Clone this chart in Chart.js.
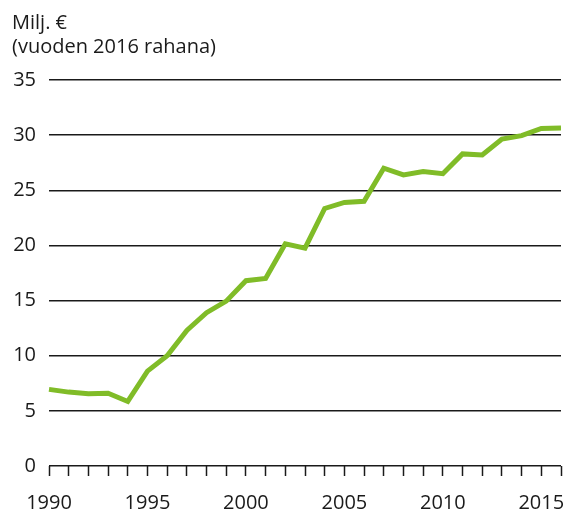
<!DOCTYPE html>
<html>
<head>
<meta charset="utf-8">
<script src="https://cdn.jsdelivr.net/npm/chart.js@4"></script>
<style>
  html, body { margin: 0; padding: 0; background: #fff; }
  canvas { display: block; }
</style>
</head>
<body>
<canvas id="chart" width="569" height="511"></canvas>
<script>
// values (million euros, 2016 money)
var years = ['1990', '1991', '1992', '1993', '1994', '1995', '1996', '1997', '1998',
  '1999', '2000', '2001', '2002', '2003', '2004', '2005', '2006', '2007', '2008',
  '2009', '2010', '2011', '2012', '2013', '2014', '2015', '2016'];
var spending = [6.95, 6.7, 6.55, 6.6, 5.85, 8.6, 10.0, 12.3, 13.9, 14.95, 16.8, 17.0,
  20.15, 19.75, 23.35, 23.9, 24.0, 27.0, 26.4, 26.7, 26.5, 28.3, 28.2, 29.65, 29.95,
  30.6, 30.65];
var yTicks = [0, 5, 10, 15, 20, 25, 30, 35];
var titleLines = ['Milj. €', '(vuoden 2016 rahana)'];

var ctx = document.getElementById('chart').getContext('2d');
var FONT = '"Open Sans", "Noto Sans", sans-serif';
var INK = '#1a1a1a';

// unit text in the top-left corner, left aligned with the y labels
var unitTitle = {
  id: 'unitTitle',
  afterDraw: function (chart) {
    var c = chart.ctx;
    c.save();
    c.fillStyle = INK;
    c.font = '20px ' + FONT;
    c.textAlign = 'left';
    c.textBaseline = 'alphabetic';
    titleLines.forEach(function (line, i) {
      c.fillText(line, 12, 29 + i * 24);
    });
    c.restore();
  }
};

var chart = new Chart(ctx, {
  type: 'line',
  data: {
    labels: years,
    datasets: [{
      data: spending,
      borderColor: '#80bc28',
      borderWidth: 5,
      pointRadius: 0,
      tension: 0,
      fill: false
    }]
  },
  plugins: [unitTitle],
  options: {
    responsive: false,
    animation: false,
    layout: { padding: { left: 0, right: 8, top: 80, bottom: 0 } },
    plugins: {
      legend: { display: false },
      tooltip: { enabled: false },
      title: { display: false }
    },
    scales: {
      x: {
        offset: false,
        border: { display: false },
        afterFit: function (axis) {
          axis.height = 45;
          axis.paddingLeft = 0;
          axis.paddingRight = 0;
        },
        grid: {
          drawOnChartArea: false,
          drawTicks: true,
          tickLength: 10,
          tickColor: INK,
          tickWidth: 1.5
        },
        ticks: {
          autoSkip: false,
          maxRotation: 0,
          padding: 17,
          color: INK,
          font: { family: FONT, size: 20, lineHeight: 1 },
          callback: function (val, i) {
            var y = years[i];
            return (+y % 5 === 0) ? y : '';
          }
        }
      },
      y: {
        min: 0,
        max: 35,
        border: { display: false },
        afterFit: function (axis) { axis.width = 49; },
        afterBuildTicks: function (axis) {
          axis.ticks = yTicks.map(function (v) { return { value: v }; });
        },
        grid: {
          color: INK,
          lineWidth: 1.5,
          drawTicks: false
        },
        ticks: {
          padding: 13,
          color: INK,
          font: { family: FONT, size: 20 }
        }
      }
    }
  }
});
</script>
</body>
</html>
